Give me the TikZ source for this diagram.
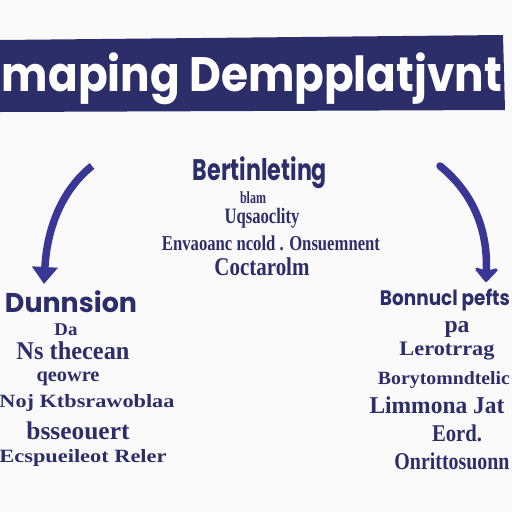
\documentclass[tikz,border=0pt]{standalone}
\usepackage{fontspec}
\setmainfont{Liberation Serif}
\newfontfamily\titlefont{Poppins}
\usetikzlibrary{arrows.meta}
\definecolor{navy}{HTML}{2C2E6A}
\definecolor{arrowblue}{HTML}{3A3696}
\definecolor{bg}{HTML}{FAFAFA}
\newcommand{\fitt}[3]{\resizebox*{#1pt}{#2pt}{#3}}
\begin{document}
\begin{tikzpicture}[x=1pt,y=-1pt,
  lbl/.style={inner sep=0pt, text=navy, font=\bfseries},
  head/.style={inner sep=0pt, text=navy, font=\titlefont\bfseries},
  bigarrow/.style={arrowblue, line width=7.5pt}]
\fill[bg] (0,0) rectangle (512,512);
\useasboundingbox (0,0) rectangle (512,512);
% banner
\fill[navy] (0,40) -- (503,35) -- (505,110) -- (0,112) -- cycle;
\node[inner sep=0pt, text=white, font=\titlefont\bfseries] (title) at (252,79) {\fitt{500}{52}{maping Dempplatjvnt}};
% centre block
\node[head] (c1) at (260,173) {\fitt{134}{32}{Bertinleting}};
\node[lbl] (c2) at (253,198) {\fitt{26}{12}{blam}};
\node[lbl] (c3) at (262,218) {\fitt{75}{20}{Uqsaoclity}};
\node[lbl] (c4) at (271,243) {\fitt{218}{15}{Envaoanc ncold . Onsuemnent}};
\node[lbl] (c5) at (262,267) {\fitt{95}{18}{Coctarolm}};
% left block
\node[head] (l1) at (71,302) {\fitt{132}{22}{Dunnsion}};
\node[lbl] (l2) at (66,330) {\fitt{23}{12}{Da}};
\node[lbl] (l3) at (73,351) {\fitt{113}{18}{Ns thecean}};
\node[lbl] (l4) at (68,379) {\fitt{63}{14}{qeowre}};
\node[lbl] (l5) at (87,403) {\fitt{175}{17}{Noj Ktbsrawoblaa}};
\node[lbl] (l6) at (78,431) {\fitt{103}{18}{bsseouert}};
\node[lbl] (l7) at (83,458) {\fitt{167}{17}{Ecspueileot Reler}};
% right block
\node[head] (r1) at (445,300) {\fitt{130}{22}{Bonnucl pefts}};
\node[lbl] (r2) at (457,329) {\fitt{25}{16}{pa}};
\node[lbl] (r3) at (447,351) {\fitt{95}{18}{Lerotrrag}};
\node[lbl] (r4) at (444,380) {\fitt{132}{17}{Borytomndtelic}};
\node[lbl] (r5) at (437,405) {\fitt{135}{17}{Limmona Jat}};
\node[lbl] (r6) at (457,433) {\fitt{50}{17}{Eord.}};
\node[lbl] (r7) at (452,461) {\fitt{115}{17}{Onrittosuonn}};
% arrows
\coordinate (la) at (92,166);
\coordinate (lb) at (44,284);
\coordinate (ra) at (440,166);
\coordinate (rb) at (486,282);
\draw[bigarrow, -{Triangle[width=25pt,length=17pt]}] (la) .. controls (62,190) and (47,228) .. (lb);
\draw[bigarrow, line cap=round, -{Stealth[width=28pt,length=16pt,inset=4pt,round]}] (ra) .. controls (472,192) and (488,228) .. (rb);
\end{tikzpicture}
\end{document}
